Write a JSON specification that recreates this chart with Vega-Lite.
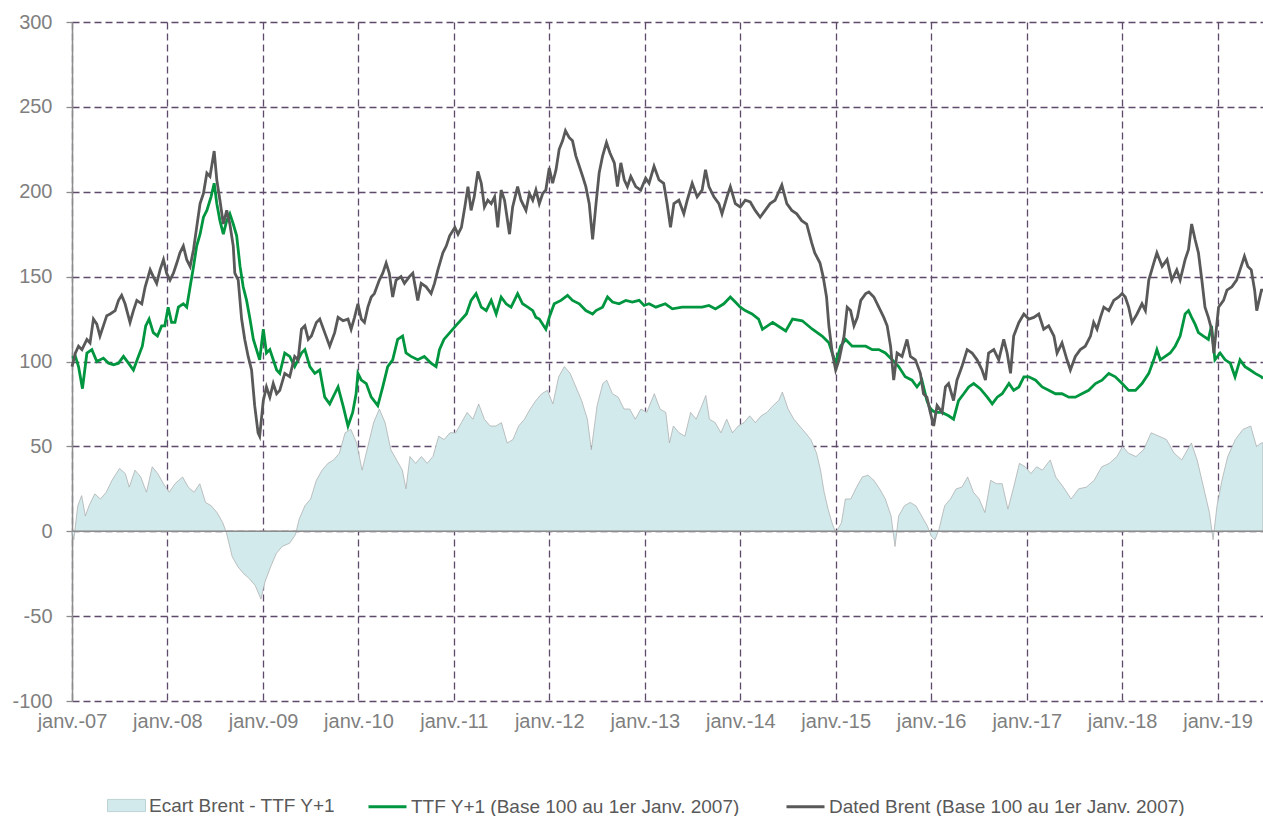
{
"$schema":"https://vega.github.io/schema/vega-lite/v6.json",
"width":1191,"height":679,
"autosize":{"type":"none"},
"padding":{"left":72,"top":22,"right":0,"bottom":115},
"background":"white",
"config":{"view":{"stroke":null},"font":"Liberation Sans"},
"datasets":{
"brent":[
{"d":"2007-01-01","v":97},{"d":"2007-01-14","v":105},{"d":"2007-01-26","v":109},{"d":"2007-02-08","v":107},{"d":"2007-02-27","v":113},{"d":"2007-03-11","v":111},{"d":"2007-03-24","v":125},{"d":"2007-04-06","v":122},{"d":"2007-04-18","v":115},{"d":"2007-05-01","v":121},{"d":"2007-05-14","v":127},{"d":"2007-05-27","v":128},{"d":"2007-06-15","v":130},{"d":"2007-06-28","v":136},{"d":"2007-07-10","v":139},{"d":"2007-07-23","v":134},{"d":"2007-08-11","v":123},{"d":"2007-08-24","v":130},{"d":"2007-09-06","v":136},{"d":"2007-09-25","v":134},{"d":"2007-10-08","v":144},{"d":"2007-10-27","v":154},{"d":"2007-11-08","v":150},{"d":"2007-11-21","v":146},{"d":"2007-12-04","v":154},{"d":"2007-12-17","v":160},{"d":"2007-12-29","v":152},
{"d":"2008-01-11","v":148},{"d":"2008-01-24","v":152},{"d":"2008-02-06","v":158},{"d":"2008-02-18","v":164},{"d":"2008-03-02","v":168},{"d":"2008-03-15","v":160},{"d":"2008-03-28","v":156},{"d":"2008-04-10","v":166},{"d":"2008-04-22","v":179},{"d":"2008-05-05","v":193},{"d":"2008-05-18","v":199},{"d":"2008-05-31","v":211},{"d":"2008-06-12","v":209},{"d":"2008-06-28","v":224},{"d":"2008-07-08","v":207},{"d":"2008-07-20","v":195},{"d":"2008-08-02","v":181},{"d":"2008-08-15","v":189},{"d":"2008-08-27","v":181},{"d":"2008-09-09","v":168},{"d":"2008-09-15","v":152},{"d":"2008-09-28","v":148},{"d":"2008-10-11","v":125},{"d":"2008-10-23","v":113},{"d":"2008-11-05","v":103},{"d":"2008-11-18","v":95},{"d":"2008-11-30","v":74},{"d":"2008-12-13","v":58},{"d":"2008-12-19","v":56},
{"d":"2009-01-02","v":77},{"d":"2009-01-14","v":85},{"d":"2009-01-27","v":79},{"d":"2009-02-09","v":87},{"d":"2009-02-22","v":81},{"d":"2009-03-06","v":83},{"d":"2009-03-25","v":93},{"d":"2009-04-13","v":91},{"d":"2009-05-02","v":103},{"d":"2009-05-15","v":101},{"d":"2009-05-28","v":119},{"d":"2009-06-10","v":121},{"d":"2009-06-23","v":113},{"d":"2009-07-05","v":115},{"d":"2009-07-24","v":123},{"d":"2009-08-06","v":125},{"d":"2009-08-25","v":117},{"d":"2009-09-13","v":109},{"d":"2009-10-02","v":117},{"d":"2009-10-15","v":126},{"d":"2009-11-03","v":124},{"d":"2009-11-22","v":125},{"d":"2009-12-04","v":119},{"d":"2009-12-17","v":126},{"d":"2009-12-30","v":134},
{"d":"2010-01-12","v":125},{"d":"2010-01-24","v":123},{"d":"2010-02-06","v":132},{"d":"2010-02-19","v":138},{"d":"2010-03-03","v":140},{"d":"2010-03-22","v":148},{"d":"2010-04-04","v":152},{"d":"2010-04-17","v":158},{"d":"2010-04-29","v":152},{"d":"2010-05-12","v":138},{"d":"2010-05-25","v":148},{"d":"2010-06-13","v":150},{"d":"2010-06-26","v":146},{"d":"2010-07-15","v":150},{"d":"2010-07-28","v":152},{"d":"2010-08-16","v":136},{"d":"2010-08-29","v":146},{"d":"2010-09-17","v":144},{"d":"2010-10-06","v":140},{"d":"2010-10-19","v":146},{"d":"2010-11-01","v":154},{"d":"2010-11-20","v":164},{"d":"2010-12-03","v":168},{"d":"2010-12-16","v":174},
{"d":"2011-01-05","v":179},{"d":"2011-01-17","v":175},{"d":"2011-01-30","v":179},{"d":"2011-02-12","v":191},{"d":"2011-02-24","v":203},{"d":"2011-03-08","v":189},{"d":"2011-03-20","v":197},{"d":"2011-04-03","v":212},{"d":"2011-04-16","v":205},{"d":"2011-04-28","v":191},{"d":"2011-05-11","v":195},{"d":"2011-05-24","v":193},{"d":"2011-06-06","v":197},{"d":"2011-06-18","v":179},{"d":"2011-07-01","v":201},{"d":"2011-07-14","v":195},{"d":"2011-08-02","v":175},{"d":"2011-08-14","v":191},{"d":"2011-09-02","v":203},{"d":"2011-09-15","v":195},{"d":"2011-10-04","v":189},{"d":"2011-10-17","v":199},{"d":"2011-10-30","v":195},{"d":"2011-11-11","v":201},{"d":"2011-11-24","v":193},{"d":"2011-12-07","v":199},{"d":"2011-12-19","v":201},
{"d":"2012-01-01","v":214},{"d":"2012-01-14","v":205},{"d":"2012-01-27","v":213},{"d":"2012-02-08","v":225},{"d":"2012-02-21","v":230},{"d":"2012-03-03","v":236},{"d":"2012-03-17","v":232},{"d":"2012-03-30","v":230},{"d":"2012-04-12","v":221},{"d":"2012-04-25","v":215},{"d":"2012-05-08","v":209},{"d":"2012-05-20","v":203},{"d":"2012-06-02","v":193},{"d":"2012-06-15","v":172},{"d":"2012-06-28","v":193},{"d":"2012-07-10","v":211},{"d":"2012-07-23","v":221},{"d":"2012-08-07","v":229},{"d":"2012-08-20","v":223},{"d":"2012-09-06","v":217},{"d":"2012-09-18","v":203},{"d":"2012-10-01","v":217},{"d":"2012-10-14","v":207},{"d":"2012-10-26","v":203},{"d":"2012-11-08","v":209},{"d":"2012-11-27","v":203},{"d":"2012-12-16","v":201},
{"d":"2013-01-04","v":208},{"d":"2013-01-17","v":205},{"d":"2013-02-05","v":215},{"d":"2013-02-24","v":207},{"d":"2013-03-14","v":205},{"d":"2013-03-27","v":193},{"d":"2013-04-09","v":179},{"d":"2013-04-22","v":193},{"d":"2013-05-11","v":195},{"d":"2013-05-30","v":187},{"d":"2013-06-12","v":195},{"d":"2013-07-01","v":205},{"d":"2013-07-20","v":197},{"d":"2013-08-08","v":201},{"d":"2013-08-21","v":213},{"d":"2013-09-03","v":203},{"d":"2013-09-22","v":197},{"d":"2013-10-11","v":193},{"d":"2013-10-23","v":187},{"d":"2013-11-11","v":197},{"d":"2013-11-24","v":203},{"d":"2013-12-13","v":193},
{"d":"2014-01-01","v":191},{"d":"2014-01-20","v":195},{"d":"2014-02-08","v":194},{"d":"2014-02-27","v":189},{"d":"2014-03-18","v":185},{"d":"2014-04-06","v":189},{"d":"2014-04-25","v":193},{"d":"2014-05-14","v":195},{"d":"2014-06-09","v":204},{"d":"2014-06-28","v":193},{"d":"2014-07-17","v":189},{"d":"2014-08-05","v":187},{"d":"2014-08-24","v":183},{"d":"2014-09-12","v":181},{"d":"2014-10-01","v":170},{"d":"2014-10-13","v":164},{"d":"2014-11-02","v":158},{"d":"2014-11-14","v":150},{"d":"2014-11-27","v":138},{"d":"2014-12-06","v":121},{"d":"2014-12-19","v":105},
{"d":"2015-01-01","v":95},{"d":"2015-01-14","v":101},{"d":"2015-02-02","v":115},{"d":"2015-02-14","v":132},{"d":"2015-02-27","v":130},{"d":"2015-03-12","v":121},{"d":"2015-03-25","v":126},{"d":"2015-04-07","v":136},{"d":"2015-04-26","v":140},{"d":"2015-05-08","v":141},{"d":"2015-05-27","v":138},{"d":"2015-06-15","v":132},{"d":"2015-07-04","v":126},{"d":"2015-07-17","v":121},{"d":"2015-07-30","v":109},{"d":"2015-08-11","v":89},{"d":"2015-08-24","v":105},{"d":"2015-09-12","v":103},{"d":"2015-10-01","v":113},{"d":"2015-10-14","v":103},{"d":"2015-11-02","v":101},{"d":"2015-11-21","v":93},{"d":"2015-12-03","v":81},{"d":"2015-12-16","v":79},{"d":"2015-12-29","v":70},
{"d":"2016-01-11","v":62},{"d":"2016-01-24","v":74},{"d":"2016-02-12","v":70},{"d":"2016-02-25","v":85},{"d":"2016-03-08","v":87},{"d":"2016-03-27","v":77},{"d":"2016-04-09","v":89},{"d":"2016-04-28","v":97},{"d":"2016-05-18","v":107},{"d":"2016-06-06","v":105},{"d":"2016-06-25","v":101},{"d":"2016-07-14","v":95},{"d":"2016-07-27","v":89},{"d":"2016-08-08","v":105},{"d":"2016-08-28","v":107},{"d":"2016-09-16","v":101},{"d":"2016-10-05","v":113},{"d":"2016-10-18","v":105},{"d":"2016-10-31","v":93},{"d":"2016-11-12","v":115},{"d":"2016-12-02","v":123},{"d":"2016-12-21","v":128},
{"d":"2017-01-09","v":125},{"d":"2017-01-28","v":126},{"d":"2017-02-16","v":128},{"d":"2017-03-07","v":119},{"d":"2017-03-26","v":121},{"d":"2017-04-15","v":115},{"d":"2017-04-27","v":105},{"d":"2017-05-16","v":111},{"d":"2017-06-04","v":101},{"d":"2017-06-17","v":95},{"d":"2017-07-06","v":103},{"d":"2017-07-25","v":107},{"d":"2017-08-13","v":109},{"d":"2017-09-02","v":115},{"d":"2017-09-14","v":123},{"d":"2017-09-27","v":119},{"d":"2017-10-10","v":126},{"d":"2017-10-23","v":132},{"d":"2017-11-11","v":130},{"d":"2017-11-30","v":136},{"d":"2017-12-19","v":138},
{"d":"2018-01-01","v":140},{"d":"2018-01-13","v":138},{"d":"2018-01-26","v":132},{"d":"2018-02-08","v":123},{"d":"2018-02-27","v":128},{"d":"2018-03-18","v":134},{"d":"2018-03-31","v":130},{"d":"2018-04-13","v":148},{"d":"2018-05-02","v":158},{"d":"2018-05-14","v":164},{"d":"2018-06-03","v":156},{"d":"2018-06-22","v":160},{"d":"2018-07-10","v":148},{"d":"2018-07-29","v":154},{"d":"2018-08-11","v":148},{"d":"2018-08-30","v":160},{"d":"2018-09-12","v":166},{"d":"2018-09-24","v":181},{"d":"2018-10-07","v":172},{"d":"2018-10-20","v":164},{"d":"2018-11-02","v":148},{"d":"2018-11-14","v":132},{"d":"2018-11-27","v":126},{"d":"2018-12-09","v":119},{"d":"2018-12-18","v":105},
{"d":"2019-01-05","v":132},{"d":"2019-01-24","v":136},{"d":"2019-02-06","v":142},{"d":"2019-02-25","v":144},{"d":"2019-03-15","v":148},{"d":"2019-03-28","v":154},{"d":"2019-04-14","v":162},{"d":"2019-04-27","v":156},{"d":"2019-05-10","v":154},{"d":"2019-05-23","v":142},{"d":"2019-05-31","v":130},{"d":"2019-06-18","v":142},{"d":"2019-06-24","v":142}
],
"ttf":[
{"d":"2007-01-01","v":102},{"d":"2007-01-14","v":103},{"d":"2007-01-26","v":97},{"d":"2007-02-10","v":84},{"d":"2007-02-27","v":105},{"d":"2007-03-18","v":107},{"d":"2007-04-06","v":100},{"d":"2007-05-01","v":102},{"d":"2007-05-21","v":99},{"d":"2007-06-09","v":98},{"d":"2007-06-28","v":99},{"d":"2007-07-17","v":103},{"d":"2007-08-05","v":99},{"d":"2007-08-24","v":95},{"d":"2007-09-12","v":103},{"d":"2007-09-27","v":109},{"d":"2007-10-10","v":121},{"d":"2007-10-23","v":125},{"d":"2007-11-08","v":117},{"d":"2007-11-24","v":115},{"d":"2007-12-10","v":121},{"d":"2007-12-22","v":121},
{"d":"2008-01-04","v":132},{"d":"2008-01-17","v":123},{"d":"2008-01-30","v":123},{"d":"2008-02-12","v":132},{"d":"2008-03-02","v":134},{"d":"2008-03-15","v":132},{"d":"2008-03-28","v":144},{"d":"2008-04-10","v":156},{"d":"2008-04-22","v":168},{"d":"2008-05-05","v":175},{"d":"2008-05-18","v":185},{"d":"2008-05-31","v":189},{"d":"2008-06-16","v":197},{"d":"2008-06-28","v":205},{"d":"2008-07-08","v":193},{"d":"2008-07-20","v":183},{"d":"2008-08-02","v":175},{"d":"2008-08-15","v":183},{"d":"2008-08-27","v":187},{"d":"2008-09-09","v":181},{"d":"2008-09-22","v":174},{"d":"2008-10-05","v":156},{"d":"2008-10-17","v":144},{"d":"2008-10-30","v":136},{"d":"2008-11-12","v":125},{"d":"2008-11-25","v":113},{"d":"2008-12-07","v":107},{"d":"2008-12-19","v":101},
{"d":"2009-01-02","v":119},{"d":"2009-01-14","v":105},{"d":"2009-01-27","v":107},{"d":"2009-02-09","v":101},{"d":"2009-02-22","v":95},{"d":"2009-03-06","v":93},{"d":"2009-03-25","v":105},{"d":"2009-04-13","v":103},{"d":"2009-05-02","v":97},{"d":"2009-05-28","v":105},{"d":"2009-06-10","v":107},{"d":"2009-06-29","v":97},{"d":"2009-07-18","v":93},{"d":"2009-08-06","v":95},{"d":"2009-08-25","v":79},{"d":"2009-09-13","v":75},{"d":"2009-10-02","v":81},{"d":"2009-10-15","v":85},{"d":"2009-11-03","v":74},{"d":"2009-11-22","v":62},{"d":"2009-12-10","v":70},{"d":"2009-12-23","v":81},{"d":"2009-12-30","v":93},
{"d":"2010-01-12","v":89},{"d":"2010-01-31","v":87},{"d":"2010-02-19","v":79},{"d":"2010-03-16","v":74},{"d":"2010-04-04","v":85},{"d":"2010-04-23","v":97},{"d":"2010-05-12","v":101},{"d":"2010-05-31","v":113},{"d":"2010-06-19","v":115},{"d":"2010-07-02","v":105},{"d":"2010-07-21","v":103},{"d":"2010-08-16","v":101},{"d":"2010-09-10","v":103},{"d":"2010-10-06","v":99},{"d":"2010-10-25","v":97},{"d":"2010-11-07","v":107},{"d":"2010-11-24","v":113},
{"d":"2011-01-08","v":121},{"d":"2011-02-18","v":128},{"d":"2011-03-08","v":136},{"d":"2011-03-27","v":140},{"d":"2011-04-16","v":132},{"d":"2011-05-05","v":130},{"d":"2011-05-24","v":136},{"d":"2011-06-12","v":128},{"d":"2011-07-01","v":138},{"d":"2011-07-20","v":134},{"d":"2011-08-08","v":132},{"d":"2011-09-02","v":140},{"d":"2011-09-21","v":134},{"d":"2011-10-11","v":132},{"d":"2011-10-30","v":130},{"d":"2011-11-11","v":126},{"d":"2011-11-24","v":125},{"d":"2011-12-19","v":119},
{"d":"2012-01-01","v":126},{"d":"2012-01-20","v":134},{"d":"2012-02-15","v":136},{"d":"2012-03-11","v":139},{"d":"2012-03-30","v":136},{"d":"2012-04-25","v":134},{"d":"2012-05-20","v":130},{"d":"2012-06-15","v":128},{"d":"2012-06-28","v":130},{"d":"2012-07-23","v":132},{"d":"2012-08-11","v":138},{"d":"2012-08-30","v":135},{"d":"2012-09-24","v":134},{"d":"2012-10-20","v":136},{"d":"2012-11-14","v":135},{"d":"2012-12-10","v":136},{"d":"2012-12-29","v":133},
{"d":"2013-01-17","v":134},{"d":"2013-02-12","v":132},{"d":"2013-03-20","v":134},{"d":"2013-04-16","v":131},{"d":"2013-05-24","v":132},{"d":"2013-07-01","v":132},{"d":"2013-08-08","v":132},{"d":"2013-09-03","v":133},{"d":"2013-09-28","v":131},{"d":"2013-10-30","v":134},{"d":"2013-11-24","v":138},{"d":"2013-12-13","v":135},
{"d":"2014-01-01","v":132},{"d":"2014-01-20","v":130},{"d":"2014-02-15","v":128},{"d":"2014-03-12","v":125},{"d":"2014-03-27","v":119},{"d":"2014-05-05","v":123},{"d":"2014-06-24","v":118},{"d":"2014-07-20","v":125},{"d":"2014-08-26","v":124},{"d":"2014-10-04","v":119},{"d":"2014-11-10","v":115},{"d":"2014-12-06","v":111},
{"d":"2015-01-01","v":99},{"d":"2015-01-20","v":109},{"d":"2015-02-08","v":113},{"d":"2015-03-05","v":109},{"d":"2015-03-31","v":109},{"d":"2015-04-26","v":109},{"d":"2015-05-21","v":107},{"d":"2015-06-15","v":107},{"d":"2015-07-10","v":105},{"d":"2015-08-05","v":101},{"d":"2015-08-30","v":97},{"d":"2015-09-24","v":91},{"d":"2015-10-20","v":89},{"d":"2015-11-08","v":85},{"d":"2015-11-27","v":89},{"d":"2015-12-16","v":77},{"d":"2015-12-29","v":72},
{"d":"2016-01-17","v":70},{"d":"2016-02-12","v":70},{"d":"2016-03-08","v":68},{"d":"2016-03-27","v":66},{"d":"2016-04-15","v":77},{"d":"2016-05-05","v":81},{"d":"2016-05-24","v":85},{"d":"2016-06-12","v":87},{"d":"2016-07-07","v":84},{"d":"2016-08-03","v":79},{"d":"2016-08-22","v":75},{"d":"2016-09-10","v":79},{"d":"2016-09-29","v":81},{"d":"2016-10-25","v":87},{"d":"2016-11-12","v":83},{"d":"2016-12-02","v":85},{"d":"2016-12-21","v":91},
{"d":"2017-01-09","v":91},{"d":"2017-02-04","v":89},{"d":"2017-03-01","v":85},{"d":"2017-03-26","v":83},{"d":"2017-04-21","v":81},{"d":"2017-05-16","v":81},{"d":"2017-06-11","v":79},{"d":"2017-07-06","v":79},{"d":"2017-07-31","v":81},{"d":"2017-08-26","v":83},{"d":"2017-09-21","v":87},{"d":"2017-10-16","v":89},{"d":"2017-11-11","v":93},{"d":"2017-12-06","v":91},
{"d":"2018-01-01","v":87},{"d":"2018-01-26","v":83},{"d":"2018-02-21","v":83},{"d":"2018-03-18","v":87},{"d":"2018-04-13","v":93},{"d":"2018-05-02","v":101},{"d":"2018-05-14","v":107},{"d":"2018-05-27","v":101},{"d":"2018-06-15","v":103},{"d":"2018-07-04","v":105},{"d":"2018-07-23","v":109},{"d":"2018-08-11","v":115},{"d":"2018-08-30","v":128},{"d":"2018-09-12","v":130},{"d":"2018-09-24","v":126},{"d":"2018-10-07","v":122},{"d":"2018-10-20","v":117},{"d":"2018-11-08","v":115},{"d":"2018-11-27","v":113},{"d":"2018-12-09","v":121},{"d":"2018-12-22","v":101},
{"d":"2019-01-11","v":105},{"d":"2019-01-30","v":101},{"d":"2019-02-19","v":99},{"d":"2019-03-09","v":91},{"d":"2019-03-28","v":101},{"d":"2019-04-16","v":97},{"d":"2019-05-06","v":95},{"d":"2019-05-25","v":93},{"d":"2019-06-18","v":91},{"d":"2019-06-24","v":90}
],
"ecart":[
{"d":"2007-01-01","v":0},{"d":"2007-01-08","v":-5},{"d":"2007-01-23","v":15},{"d":"2007-02-07","v":21},{"d":"2007-02-21","v":9},{"d":"2007-03-07","v":15},{"d":"2007-03-29","v":22},{"d":"2007-04-20","v":19},{"d":"2007-05-12","v":23},{"d":"2007-06-03","v":30},{"d":"2007-07-02","v":37},{"d":"2007-07-24","v":34},{"d":"2007-08-08","v":26},{"d":"2007-08-30","v":36},{"d":"2007-09-21","v":32},{"d":"2007-10-13","v":23},{"d":"2007-11-04","v":38},{"d":"2007-11-25","v":34},{"d":"2007-12-17","v":28},
{"d":"2008-01-08","v":23},{"d":"2008-01-30","v":28},{"d":"2008-02-28","v":32},{"d":"2008-03-21","v":26},{"d":"2008-04-12","v":23},{"d":"2008-05-04","v":28},{"d":"2008-05-26","v":17},{"d":"2008-06-17","v":15},{"d":"2008-07-09","v":11},{"d":"2008-07-31","v":5},{"d":"2008-08-14","v":-1},{"d":"2008-09-05","v":-15},{"d":"2008-09-27","v":-21},{"d":"2008-10-19","v":-25},{"d":"2008-11-10","v":-28},{"d":"2008-12-02","v":-32},{"d":"2008-12-24","v":-40},
{"d":"2009-01-08","v":-30},{"d":"2009-01-30","v":-21},{"d":"2009-02-21","v":-13},{"d":"2009-03-15","v":-9},{"d":"2009-04-13","v":-7},{"d":"2009-05-05","v":-2},{"d":"2009-05-19","v":7},{"d":"2009-06-10","v":15},{"d":"2009-07-02","v":19},{"d":"2009-07-24","v":30},{"d":"2009-08-15","v":36},{"d":"2009-09-06","v":40},{"d":"2009-09-28","v":42},{"d":"2009-10-20","v":46},{"d":"2009-11-11","v":58},{"d":"2009-12-03","v":60},{"d":"2009-12-25","v":52},
{"d":"2010-01-15","v":36},{"d":"2010-02-06","v":50},{"d":"2010-02-28","v":64},{"d":"2010-03-22","v":72},{"d":"2010-04-13","v":64},{"d":"2010-05-05","v":48},{"d":"2010-05-27","v":42},{"d":"2010-06-18","v":36},{"d":"2010-07-02","v":25},{"d":"2010-07-17","v":44},{"d":"2010-08-08","v":40},{"d":"2010-08-30","v":44},{"d":"2010-09-21","v":40},{"d":"2010-10-13","v":44},{"d":"2010-11-04","v":56},{"d":"2010-11-25","v":54},{"d":"2010-12-17","v":58},
{"d":"2011-01-08","v":58},{"d":"2011-01-30","v":64},{"d":"2011-02-21","v":70},{"d":"2011-03-15","v":66},{"d":"2011-04-06","v":75},{"d":"2011-04-28","v":66},{"d":"2011-05-20","v":62},{"d":"2011-06-11","v":62},{"d":"2011-07-02","v":64},{"d":"2011-07-24","v":52},{"d":"2011-08-15","v":54},{"d":"2011-09-06","v":62},{"d":"2011-09-28","v":66},{"d":"2011-10-20","v":72},{"d":"2011-11-11","v":77},{"d":"2011-12-03","v":81},{"d":"2011-12-25","v":83},
{"d":"2012-01-15","v":75},{"d":"2012-02-06","v":91},{"d":"2012-02-28","v":97},{"d":"2012-03-21","v":93},{"d":"2012-04-12","v":85},{"d":"2012-05-04","v":77},{"d":"2012-05-26","v":66},{"d":"2012-06-10","v":48},{"d":"2012-07-02","v":74},{"d":"2012-07-24","v":87},{"d":"2012-08-08","v":89},{"d":"2012-08-30","v":81},{"d":"2012-09-21","v":79},{"d":"2012-10-13","v":72},{"d":"2012-11-04","v":72},{"d":"2012-11-25","v":66},{"d":"2012-12-17","v":72},
{"d":"2013-01-08","v":70},{"d":"2013-02-06","v":81},{"d":"2013-02-28","v":72},{"d":"2013-03-22","v":70},{"d":"2013-04-05","v":52},{"d":"2013-04-20","v":62},{"d":"2013-05-12","v":58},{"d":"2013-06-03","v":56},{"d":"2013-06-25","v":70},{"d":"2013-07-16","v":66},{"d":"2013-08-07","v":74},{"d":"2013-08-22","v":80},{"d":"2013-09-05","v":66},{"d":"2013-09-27","v":64},{"d":"2013-10-19","v":58},{"d":"2013-11-10","v":66},{"d":"2013-12-02","v":58},{"d":"2013-12-24","v":62},
{"d":"2014-01-15","v":64},{"d":"2014-02-06","v":68},{"d":"2014-02-28","v":64},{"d":"2014-03-22","v":68},{"d":"2014-04-13","v":70},{"d":"2014-05-06","v":74},{"d":"2014-05-28","v":77},{"d":"2014-06-11","v":82},{"d":"2014-07-03","v":72},{"d":"2014-07-25","v":66},{"d":"2014-08-16","v":62},{"d":"2014-09-07","v":58},{"d":"2014-09-28","v":54},{"d":"2014-10-20","v":46},{"d":"2014-11-04","v":36},{"d":"2014-11-18","v":23},{"d":"2014-12-03","v":13},{"d":"2014-12-18","v":5},
{"d":"2015-01-01","v":-1},{"d":"2015-01-23","v":5},{"d":"2015-02-07","v":19},{"d":"2015-02-28","v":19},{"d":"2015-03-22","v":26},{"d":"2015-04-13","v":32},{"d":"2015-05-05","v":33},{"d":"2015-05-27","v":30},{"d":"2015-06-18","v":25},{"d":"2015-07-10","v":19},{"d":"2015-08-01","v":9},{"d":"2015-08-16","v":-9},{"d":"2015-08-30","v":9},{"d":"2015-09-21","v":15},{"d":"2015-10-13","v":17},{"d":"2015-11-04","v":15},{"d":"2015-11-26","v":9},{"d":"2015-12-18","v":3},
{"d":"2016-01-02","v":-3},{"d":"2016-01-16","v":-5},{"d":"2016-01-31","v":1},{"d":"2016-02-22","v":15},{"d":"2016-03-15","v":19},{"d":"2016-04-06","v":25},{"d":"2016-04-28","v":26},{"d":"2016-05-20","v":32},{"d":"2016-06-11","v":23},{"d":"2016-07-03","v":19},{"d":"2016-07-25","v":11},{"d":"2016-08-16","v":30},{"d":"2016-09-07","v":28},{"d":"2016-09-29","v":28},{"d":"2016-10-21","v":13},{"d":"2016-11-12","v":26},{"d":"2016-12-04","v":40},{"d":"2016-12-26","v":38},
{"d":"2017-01-17","v":34},{"d":"2017-02-08","v":38},{"d":"2017-03-02","v":36},{"d":"2017-04-01","v":42},{"d":"2017-04-22","v":32},{"d":"2017-05-21","v":26},{"d":"2017-06-20","v":19},{"d":"2017-07-19","v":25},{"d":"2017-08-17","v":26},{"d":"2017-09-16","v":30},{"d":"2017-10-15","v":38},{"d":"2017-11-13","v":40},{"d":"2017-12-12","v":44},
{"d":"2018-01-03","v":50},{"d":"2018-01-25","v":46},{"d":"2018-02-23","v":44},{"d":"2018-03-24","v":48},{"d":"2018-04-22","v":58},{"d":"2018-05-22","v":56},{"d":"2018-06-20","v":54},{"d":"2018-07-19","v":46},{"d":"2018-08-17","v":42},{"d":"2018-09-23","v":52},{"d":"2018-10-15","v":42},{"d":"2018-11-13","v":23},{"d":"2018-12-01","v":11},{"d":"2018-12-15","v":-5},{"d":"2018-12-30","v":15},
{"d":"2019-01-18","v":30},{"d":"2019-02-09","v":44},{"d":"2019-03-10","v":54},{"d":"2019-04-08","v":60},{"d":"2019-05-08","v":62},{"d":"2019-05-30","v":50},{"d":"2019-06-18","v":52},{"d":"2019-06-24","v":52}
],
"zero":[{"d":"2007-01-01","v":0},{"d":"2019-06-24","v":0}]
},
"encoding":{
"x":{"field":"d","type":"temporal",
 "scale":{"type":"utc","domain":[{"year":2007,"month":1,"date":1,"utc":true},{"year":2019,"month":6,"date":24,"utc":true}]},
 "axis":{"title":null,"domain":false,"ticks":false,"grid":true,"gridColor":"#5e4a6a","gridDash":[7,4],"gridWidth":1.3,"labelOverlap":false,"labelFlush":false,
  "values":[{"year":2007,"month":1,"date":1,"utc":true},{"year":2008,"month":1,"date":1,"utc":true},{"year":2009,"month":1,"date":1,"utc":true},{"year":2010,"month":1,"date":1,"utc":true},{"year":2011,"month":1,"date":1,"utc":true},{"year":2012,"month":1,"date":1,"utc":true},{"year":2013,"month":1,"date":1,"utc":true},{"year":2014,"month":1,"date":1,"utc":true},{"year":2015,"month":1,"date":1,"utc":true},{"year":2016,"month":1,"date":1,"utc":true},{"year":2017,"month":1,"date":1,"utc":true},{"year":2018,"month":1,"date":1,"utc":true},{"year":2019,"month":1,"date":1,"utc":true}],
  "labelExpr":"'janv.-' + utcFormat(datum.value, '%y')","labelFontSize":20,"labelColor":"#7f7f7f","labelPadding":10,"labelFont":"Liberation Sans"}},
"y":{"field":"v","type":"quantitative",
 "scale":{"domain":[-100,300],"nice":false,"zero":false},
 "axis":{"title":null,"values":[-100,-50,0,50,100,150,200,250,300],"labelExpr":"'' + datum.value","domainColor":"#8c8c8c","domainWidth":1.5,"tickColor":"#8c8c8c","tickSize":6,"tickWidth":1.3,
  "grid":true,"gridColor":"#5e4a6a","gridDash":[7,4],"gridWidth":1.3,"labelFontSize":20,"labelColor":"#7f7f7f","labelPadding":14,"labelFont":"Liberation Sans"}}
},
"layer":[
{"data":{"name":"ecart"},"mark":{"type":"area","stroke":"#a8a8a8","strokeWidth":0.7,"fillOpacity":1},
 "encoding":{"y2":{"datum":0},
  "fill":{"datum":"Ecart Brent - TTF Y+1","type":"nominal",
   "scale":{"domain":["Ecart Brent - TTF Y+1"],"range":["#d2eaec"]},
   "legend":{"title":null,"orient":"none","legendX":35,"legendY":764,"direction":"horizontal","symbolType":"M-1,-0.32H1V0.32H-1Z","symbolSize":1444,"symbolStrokeColor":"#bcd3d5","symbolStrokeWidth":1,"symbolOpacity":1,"labelFontSize":19,"labelColor":"#595959","labelFont":"Liberation Sans","labelOffset":3,"labelLimit":600}}}},
{"data":{"name":"zero"},"mark":{"type":"line","color":"#8c8c8c","strokeWidth":1.5}},
{"data":{"name":"ttf"},"mark":{"type":"line","strokeWidth":2.8},
 "encoding":{"stroke":{"datum":"TTF Y+1 (Base 100 au 1er Janv. 2007)","type":"nominal",
   "scale":{"domain":["TTF Y+1 (Base 100 au 1er Janv. 2007)","Dated Brent (Base 100 au 1er Janv. 2007)"],"range":["#00963f","#595959"]},
   "legend":{"title":null,"orient":"none","legendX":295,"legendY":764,"direction":"horizontal","symbolType":"stroke","symbolSize":1444,"symbolStrokeWidth":3,"labelFontSize":19,"labelColor":"#595959","labelFont":"Liberation Sans","labelOffset":3,"labelLimit":600,"columnPadding":40}}}},
{"data":{"name":"brent"},"mark":{"type":"line","strokeWidth":2.8},
 "encoding":{"stroke":{"datum":"Dated Brent (Base 100 au 1er Janv. 2007)","type":"nominal"}}}
]
}
